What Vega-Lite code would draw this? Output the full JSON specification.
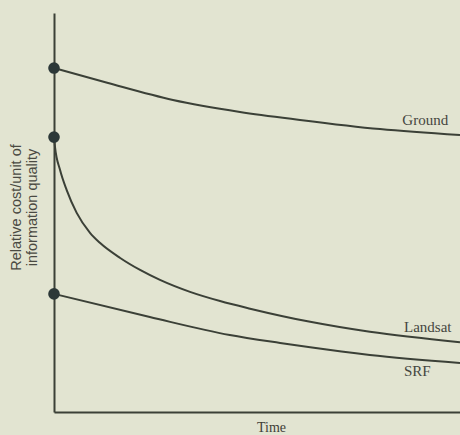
{
  "$schema": "https://vega.github.io/schema/vega-lite/v6.json",
  "width": 406,
  "height": 399,
  "autosize": {"type": "none"},
  "padding": {"left": 54, "top": 13, "right": 0, "bottom": 23},
  "background": "#e2e4d1",
  "config": {"view": {"stroke": null}},
  "datasets": {
    "curves": [
      {"series": "Ground", "t": 0, "cost": 86.2},
      {"series": "Ground", "t": 13.1, "cost": 82.5},
      {"series": "Ground", "t": 29.3, "cost": 78.2},
      {"series": "Ground", "t": 45.8, "cost": 75.2},
      {"series": "Ground", "t": 60.6, "cost": 73.2},
      {"series": "Ground", "t": 80.3, "cost": 70.9},
      {"series": "Ground", "t": 100, "cost": 69.4},
      {"series": "Landsat", "t": 0, "cost": 68.9},
      {"series": "Landsat", "t": 0.25, "cost": 66.4},
      {"series": "Landsat", "t": 1.48, "cost": 60.7},
      {"series": "Landsat", "t": 3.13, "cost": 55.6},
      {"series": "Landsat", "t": 5.59, "cost": 49.9},
      {"series": "Landsat", "t": 8.87, "cost": 44.9},
      {"series": "Landsat", "t": 11.3, "cost": 42.4},
      {"series": "Landsat", "t": 16.3, "cost": 38.6},
      {"series": "Landsat", "t": 21.2, "cost": 35.6},
      {"series": "Landsat", "t": 26.1, "cost": 33.1},
      {"series": "Landsat", "t": 33.5, "cost": 30.1},
      {"series": "Landsat", "t": 40.9, "cost": 27.8},
      {"series": "Landsat", "t": 48.3, "cost": 25.9},
      {"series": "Landsat", "t": 63.1, "cost": 22.6},
      {"series": "Landsat", "t": 77.8, "cost": 20.1},
      {"series": "Landsat", "t": 100, "cost": 17.5},
      {"series": "SRF", "t": 0, "cost": 29.6},
      {"series": "SRF", "t": 23.6, "cost": 23.8},
      {"series": "SRF", "t": 43.3, "cost": 19.3},
      {"series": "SRF", "t": 55.7, "cost": 17.3},
      {"series": "SRF", "t": 63.1, "cost": 16.2},
      {"series": "SRF", "t": 77.8, "cost": 14.3},
      {"series": "SRF", "t": 100, "cost": 12.3}
    ],
    "starts": [
      {"series": "Ground", "t": 0, "cost": 86.2},
      {"series": "Landsat", "t": 0, "cost": 68.9},
      {"series": "SRF", "t": 0, "cost": 29.6}
    ],
    "labels": [
      {"label": "Ground", "t": 85.8, "cost": 71.9},
      {"label": "Landsat", "t": 86.2, "cost": 20.0},
      {"label": "SRF", "t": 86.2, "cost": 9.0}
    ]
  },
  "layer": [
    {
      "data": {"name": "curves"},
      "mark": {"type": "line", "interpolate": "monotone", "color": "#3b4037", "strokeWidth": 2},
      "encoding": {
        "x": {
          "field": "t", "type": "quantitative",
          "scale": {"domain": [0, 100], "nice": false, "zero": false},
          "axis": {
            "title": "Time", "labels": false, "ticks": false, "grid": false,
            "domainColor": "#3b4037", "domainWidth": 2,
            "titleFont": "Liberation Serif", "titleFontSize": 14, "titleFontWeight": "normal",
            "titleColor": "#3f3f38", "titleBaseline": "alphabetic", "titleX": 217, "titleY": 19
          }
        },
        "y": {
          "field": "cost", "type": "quantitative",
          "scale": {"domain": [0, 100], "nice": false, "zero": false},
          "axis": {
            "title": ["Relative cost/unit of", "information quality"],
            "labels": false, "ticks": false, "grid": false,
            "domainColor": "#3b4037", "domainWidth": 2,
            "titleFont": "Liberation Sans", "titleFontSize": 14.5, "titleFontWeight": "normal",
            "titleColor": "#4a4a42", "titleAngle": -90, "titleAlign": "center",
            "titleBaseline": "alphabetic", "titleLineHeight": 16,
            "titleX": -33.5, "titleY": 194
          }
        },
        "detail": {"field": "series"}
      }
    },
    {
      "data": {"name": "starts"},
      "mark": {"type": "point", "filled": true, "size": 135, "color": "#2c3838", "opacity": 1},
      "encoding": {
        "x": {"field": "t", "type": "quantitative"},
        "y": {"field": "cost", "type": "quantitative"}
      }
    },
    {
      "data": {"name": "labels"},
      "mark": {"type": "text", "align": "left", "baseline": "alphabetic", "font": "Liberation Serif", "fontSize": 15, "color": "#45463f"},
      "encoding": {
        "x": {"field": "t", "type": "quantitative"},
        "y": {"field": "cost", "type": "quantitative"},
        "text": {"field": "label"}
      }
    }
  ]
}
